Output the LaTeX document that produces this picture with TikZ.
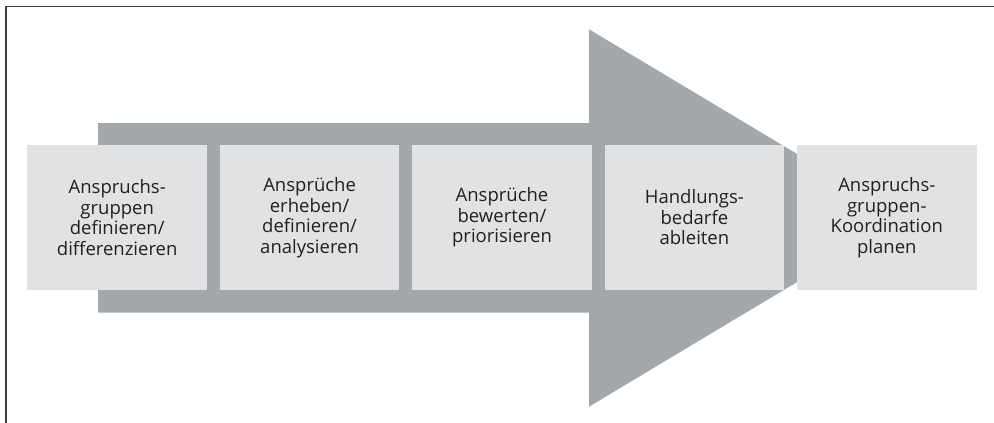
\documentclass[tikz,border=0pt]{standalone}
\usepackage{fontspec}
\setmainfont{Open Sans}
\usetikzlibrary{positioning}
\definecolor{arrowgray}{HTML}{A5A8AA}
\definecolor{boxgray}{HTML}{E0E2E3}
\definecolor{textgray}{HTML}{231F20}
\definecolor{framegray}{HTML}{3C3C3C}
\begin{document}
\begin{tikzpicture}[x=1pt,y=1pt,
		stagebox/.style={fill=boxgray, minimum width=179.5pt, minimum height=145pt,
			inner sep=0pt, align=center, text=textgray,
			font=\fontsize{18.5}{20.5}\selectfont},
		node distance=12.5pt]
		\useasboundingbox (0,0) rectangle (994,-423);
		% frame
		\draw [framegray, line width=1.4pt] (6,-423) -- (6,-6.5) -- (994,-6.5);
		% big arrow behind the stages
		\fill [arrowgray] (98,-123) -- (589,-123) -- (589,-29.3) -- (904,-218)
			-- (589,-406.7) -- (589,-312.7) -- (98,-312.7) -- cycle;
		% stages
		\node [stagebox] (define) at (117.2,-217.5) {Anspruchs-\\gruppen\\definieren/\\differenzieren};
		\node [stagebox, right=of define] (collect) {Ansprüche\\erheben/\\definieren/\\analysieren};
		\node [stagebox, right=of collect] (rate) {Ansprüche\\bewerten/\\priorisieren};
		\node [stagebox, right=of rate] (derive) {Handlungs-\\bedarfe\\ableiten};
		\node [stagebox, right=of derive] (plan) {Anspruchs-\\gruppen-\\Koordination\\planen};
\end{tikzpicture}
\end{document}
